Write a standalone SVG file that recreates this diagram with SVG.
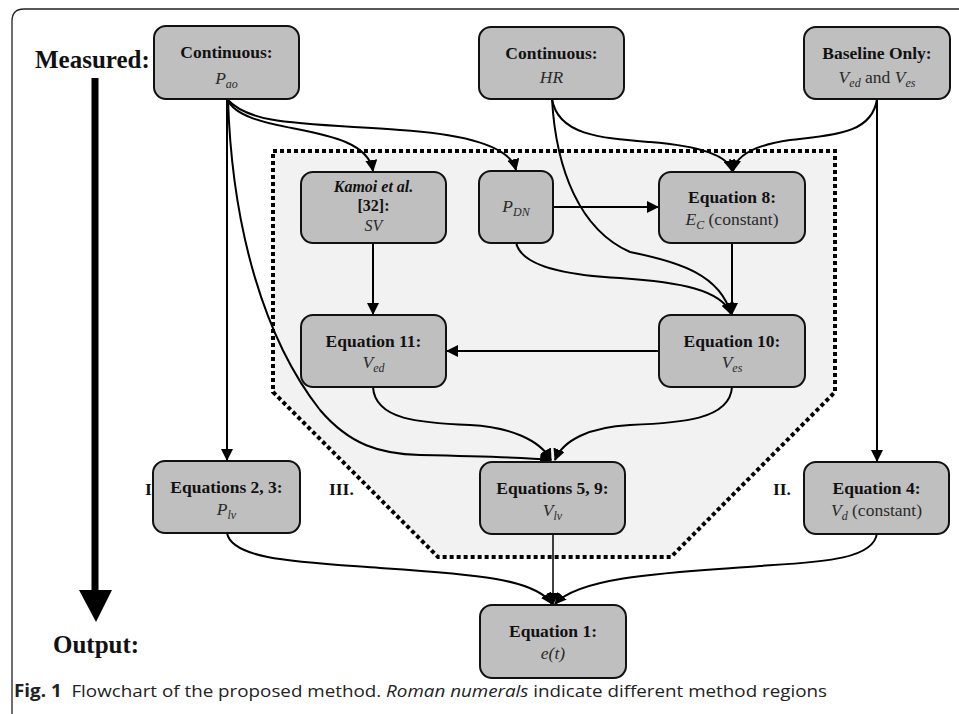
<svg xmlns="http://www.w3.org/2000/svg" width="959" height="714" viewBox="0 0 959 714">
<style>
.box{fill:#bfbfbf;stroke:#111;stroke-width:2}
.t{font-family:"Liberation Serif","Times New Roman",serif;font-size:17.5px;font-weight:bold;fill:#111;text-anchor:middle}
.v{font-family:"Liberation Serif","Times New Roman",serif;font-size:17.5px;font-style:italic;fill:#2a2a2a;text-anchor:middle}
.k{font-size:16px}
.sub{font-size:12px}
.r{font-style:normal}
.lbl{font-family:"Liberation Serif","Times New Roman",serif;font-size:17.5px;font-weight:bold;fill:#111}
.big{font-family:"Liberation Serif","Times New Roman",serif;font-size:25px;font-weight:bold;fill:#111}
.c{fill:none;stroke:#000;stroke-width:2;marker-end:url(#ah)}
.cap{font-family:"Open Sans","Noto Sans","Liberation Sans",sans-serif;font-size:17px;fill:#222}
</style>
<defs>
<marker id="ah" viewBox="0 0 12 12" refX="11" refY="6" markerWidth="12" markerHeight="12" markerUnits="userSpaceOnUse" orient="auto">
<path d="M0,0 L12,6 L0,12 z" fill="#000"/>
</marker>
</defs>
<rect width="959" height="714" fill="#fff"/>
<path d="M12,714 L12,21 Q12,9 24,9 L959,9" fill="none" stroke="#222" stroke-width="1.3"/>
<polygon id="region-III" points="273,151 835,151 835,392 671,557 438,557 273,392" fill="#f2f2f2" stroke="#000" stroke-width="4" stroke-dasharray="4 3"/>
<g id="axis">
<text class="big" x="35" y="68">Measured:</text>
<text class="big" x="53" y="653">Output:</text>
<line x1="95" y1="78" x2="95" y2="592" stroke="#000" stroke-width="7"/>
<polygon points="79,590 112,590 96,622" fill="#000"/>
</g>
<g id="region-labels">
<text class="lbl" x="145" y="495">I.</text>
<text class="lbl" x="329" y="495">III.</text>
<text class="lbl" x="773" y="495">II.</text>
</g>
<g id="connectors">
<path class="c" d="M227,99 L227,460"/>
<path class="c" d="M227,99 C245,138 365,120 373,171"/>
<path class="c" d="M227,99 C250,125 300,123 400,130 C460,134 510,145 516,170"/>
<path class="c" d="M228,99 C232,230 265,340 320,410 C350,445 380,454 420,455 C470,456 520,457 551,460"/>
<path class="c" d="M552,99 C558,135 600,138 650,142 C700,146 728,155 732,171"/>
<path class="c" d="M552,99 C556,170 580,230 630,252 C680,262 720,275 731,314"/>
<path class="c" d="M877,99 C872,135 830,135 790,140 C755,145 736,155 733,171"/>
<path class="c" d="M877,99 L877,461"/>
<path class="c" d="M553,207 L658,207"/>
<path class="c" d="M516,242 C520,265 560,275 620,278 C680,282 722,290 731,314"/>
<path class="c" d="M732,243 L732,314"/>
<path class="c" d="M373,243 L373,314"/>
<path class="c" d="M659,351 L447,351"/>
<path class="c" d="M373,387 C375,420 420,423 470,425 C510,427 540,440 551,460"/>
<path class="c" d="M732,387 C730,420 680,423 630,425 C590,427 563,440 555,460"/>
<path class="c" d="M227,533 C232,560 300,562 380,568 C470,574 535,578 552,604"/>
<path class="c" d="M553,534 L553,604" style="stroke-width:1.5"/>
<path class="c" d="M877,533 C874,560 820,562 760,566 C680,572 580,575 555,604"/>
</g>
<g id="n-pao">
<rect class="box" x="154" y="26" width="145" height="73" rx="12"/>
<text class="t" x="226.5" y="58">Continuous:</text>
<text class="v" x="226.5" y="84">P<tspan class="sub" dy="4">ao</tspan></text>
</g>
<g id="n-hr">
<rect class="box" x="479" y="27" width="145" height="72" rx="12"/>
<text class="t" x="551.5" y="59">Continuous:</text>
<text class="v" x="551.5" y="83">HR</text>
</g>
<g id="n-baseline">
<rect class="box" x="804" y="27" width="146" height="72" rx="12"/>
<text class="t" x="877" y="59">Baseline Only:</text>
<text class="v" x="877" y="83">V<tspan class="sub" dy="4">ed</tspan><tspan class="r" dy="-4"> and </tspan>V<tspan class="sub" dy="4">es</tspan></text>
</g>
<g id="n-kamoi">
<rect class="box" x="301" y="172" width="145" height="71" rx="12"/>
<text class="t k" x="373.5" y="192" font-style="italic">Kamoi et al.</text>
<text class="t k" x="373.5" y="211">[32]:</text>
<text class="v k" x="373.5" y="231">SV</text>
</g>
<g id="n-pdn">
<rect class="box" x="479" y="171" width="74" height="72" rx="12"/>
<text class="v" x="516" y="212">P<tspan class="sub" dy="4">DN</tspan></text>
</g>
<g id="n-eq8">
<rect class="box" x="659" y="172" width="146" height="71" rx="12"/>
<text class="t" x="732" y="203">Equation 8:</text>
<text class="v" x="732" y="225">E<tspan class="sub" dy="4">C</tspan><tspan class="r" dy="-4"> (constant)</tspan></text>
</g>
<g id="n-eq11">
<rect class="box" x="301" y="315" width="145" height="72" rx="12"/>
<text class="t" x="373.5" y="347">Equation 11:</text>
<text class="v" x="373.5" y="368">V<tspan class="sub" dy="4">ed</tspan></text>
</g>
<g id="n-eq10">
<rect class="box" x="659" y="315" width="146" height="72" rx="12"/>
<text class="t" x="732" y="347">Equation 10:</text>
<text class="v" x="732" y="368">V<tspan class="sub" dy="4">es</tspan></text>
</g>
<g id="n-eq23">
<rect class="box" x="153" y="461" width="147" height="72" rx="12"/>
<text class="t" x="226.5" y="493">Equations 2, 3:</text>
<text class="v" x="226.5" y="515">P<tspan class="sub" dy="4">lv</tspan></text>
</g>
<g id="n-eq59">
<rect class="box" x="480" y="462" width="145" height="72" rx="12"/>
<text class="t" x="552.5" y="494">Equations 5, 9:</text>
<text class="v" x="552.5" y="516">V<tspan class="sub" dy="4">lv</tspan></text>
</g>
<g id="n-eq4">
<rect class="box" x="804" y="462" width="145" height="72" rx="12"/>
<text class="t" x="876.5" y="494">Equation 4:</text>
<text class="v" x="876.5" y="516">V<tspan class="sub" dy="4">d</tspan><tspan class="r" dy="-4"> (constant)</tspan></text>
</g>
<g id="n-eq1">
<rect class="box" x="480" y="605" width="146" height="73" rx="12"/>
<text class="t" x="553" y="637">Equation 1:</text>
<text class="v" x="553" y="659">e(t)</text>
</g>
<text class="cap" x="14" y="697" textLength="813" lengthAdjust="spacingAndGlyphs"><tspan font-weight="bold">Fig. 1</tspan>&#160; Flowchart of the proposed method. <tspan font-style="italic">Roman numerals</tspan> indicate different method regions</text>
</svg>
